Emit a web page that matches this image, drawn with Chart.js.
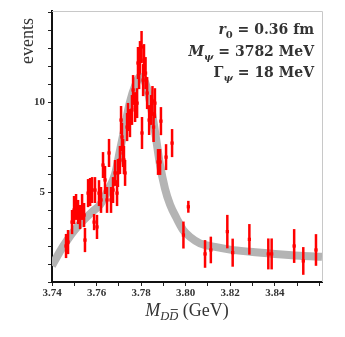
<!DOCTYPE html>
<html>
<head>
<meta charset="utf-8">
<script src="https://cdn.jsdelivr.net/npm/chart.js@4"></script>
<style>
  html, body { margin: 0; padding: 0; background: #fff; }
</style>
</head>
<body>
<canvas id="fitChart" width="345" height="337"></canvas>
<script>
// measured D Dbar events (mass in GeV, counts, symmetric error)
const massGeV = [
  3.7463, 3.7472, 3.7490, 3.7499, 3.7508, 3.7517, 3.7526, 3.7535, 3.7544, 3.7548,
  3.7562, 3.7571, 3.7580, 3.7589, 3.7593, 3.7602, 3.7611, 3.7620, 3.7629, 3.7638,
  3.7647, 3.7656, 3.7665, 3.7674, 3.7683, 3.7692, 3.7696, 3.7705, 3.7710, 3.7714,
  3.7719, 3.7723, 3.7728, 3.7737, 3.7741, 3.7750, 3.7759, 3.7764, 3.7773, 3.7782,
  3.7786, 3.7791, 3.7795, 3.7802, 3.7804, 3.7809, 3.7813, 3.7820, 3.7827, 3.7836,
  3.7845, 3.7851, 3.7856, 3.7862, 3.7876, 3.7885, 3.7889, 3.7912, 3.7939, 3.7990,
  3.8012, 3.8087, 3.8113, 3.8187, 3.8211, 3.8286, 3.8371, 3.8386, 3.8487, 3.8528,
  3.8585
];
const events = [
  2.00, 2.22, 3.33, 4.00, 4.17, 3.89, 3.61, 4.17, 3.72, 2.33,
  4.94, 5.00, 5.11, 3.33, 5.11, 3.06, 4.94, 4.56, 6.50, 5.67,
  4.56, 7.17, 4.56, 5.11, 6.06, 4.94, 6.06, 6.78, 9.00, 8.06,
  7.17, 6.78, 6.06, 8.61, 9.17, 8.83, 9.56, 10.67, 9.72, 9.94,
  12.17, 11.61, 12.50, 13.06, 8.28, 11.22, 12.33, 11.61, 10.50, 9.00,
  9.56, 10.06, 8.61, 9.94, 6.67, 6.67, 8.94, 6.94, 7.72, 2.61,
  4.18, 1.56, 1.78, 2.80, 1.63, 2.37, 1.56, 1.56, 2.00, 1.17,
  1.78
];
const errors = [
  0.67, 0.67, 0.67, 0.78, 0.72, 0.67, 0.67, 0.72, 0.67, 0.67,
  0.78, 0.78, 0.72, 0.45, 0.72, 0.67, 0.72, 0.72, 0.72, 0.78,
  0.72, 0.78, 0.72, 0.72, 0.72, 0.72, 0.78, 0.78, 0.78, 0.78,
  0.78, 0.78, 0.72, 0.78, 0.78, 0.78, 0.83, 0.83, 0.83, 0.83,
  0.89, 0.89, 0.89, 0.89, 0.89, 0.89, 0.89, 0.89, 0.89, 0.83,
  0.83, 0.83, 0.83, 0.83, 0.72, 0.72, 0.78, 0.72, 0.78, 0.75,
  0.33, 0.77, 0.74, 0.93, 0.78, 0.85, 0.86, 0.86, 0.94, 0.77,
  0.88
];

// fitted line shape (grey band)
const fitMass = [
  3.7400, 3.7436, 3.7467, 3.7503, 3.7539, 3.7580, 3.7616, 3.7651, 3.7683, 3.7705,
  3.7728, 3.7750, 3.7773, 3.7795, 3.7818, 3.7840, 3.7862, 3.7885, 3.7907, 3.7930,
  3.7961, 3.7988, 3.8020, 3.8064, 3.8132, 3.8199, 3.8289, 3.8401, 3.8514, 3.8612
];
const fitEvents = [
  0.9, 1.7, 2.3, 2.9, 3.4, 3.9, 4.3, 5.1, 6.0, 7.3,
  8.7, 10.0, 10.9, 11.4, 11.1, 10.0, 8.4, 6.5, 5.2, 4.3,
  3.5, 2.9, 2.5, 2.15, 1.95, 1.8, 1.68, 1.56, 1.46, 1.4
];

const xTickLabels = ["3.74", "3.76", "3.78", "3.80", "3.82", "3.84"];
const yTickLabels = ["5", "10"];

const errorBars = {
  id: "errorBars",
  beforeDatasetDraw(chart, args) {
    if (args.index !== 0) return;
    const { ctx, scales: { x, y } } = chart;
    ctx.save();
    ctx.strokeStyle = "#ff0000";
    ctx.lineWidth = 2.5;
    massGeV.forEach((m, i) => {
      const px = x.getPixelForValue(m);
      ctx.beginPath();
      ctx.moveTo(px, y.getPixelForValue(events[i] - errors[i]));
      ctx.lineTo(px, y.getPixelForValue(events[i] + errors[i]));
      ctx.stroke();
    });
    ctx.restore();
  }
};

// draws a run of [text, font, dy] pieces; align "right" or "center"
function drawPieces(ctx, pieces, x, y, align) {
  let w = 0;
  pieces.forEach(p => { ctx.font = p[1]; w += ctx.measureText(p[0]).width; });
  let cx = align === "right" ? x - w : x - w / 2;
  const spots = [];
  pieces.forEach(p => {
    ctx.font = p[1];
    ctx.fillText(p[0], cx, y + (p[2] || 0));
    const pw = ctx.measureText(p[0]).width;
    spots.push([cx, pw]);
    cx += pw;
  });
  return spots;
}

const textLayer = {
  id: "textLayer",
  afterDraw(chart) {
    const { ctx, chartArea: a } = chart;
    ctx.save();
    // light frame on top and right
    ctx.strokeStyle = "#c8c8c8";
    ctx.lineWidth = 1;
    ctx.beginPath();
    ctx.moveTo(a.left, a.top + 0.5);
    ctx.lineTo(a.right + 0.5, a.top + 0.5);
    ctx.lineTo(a.right + 0.5, a.bottom);
    ctx.stroke();

    ctx.fillStyle = "#333";
    ctx.textBaseline = "alphabetic";
    ctx.textAlign = "left";

    // y title
    ctx.save();
    ctx.translate(33, 18);
    ctx.rotate(-Math.PI / 2);
    ctx.textAlign = "right";
    ctx.font = '18px "Liberation Serif"';
    ctx.fillText("events", 0, 0);
    ctx.restore();

    // x title  M_{D Dbar} (GeV)
    const spots = drawPieces(ctx, [
      ["M", 'italic 18px "Liberation Serif"', 0],
      ["DD", 'italic 12.5px "Liberation Serif"', 4],
      [" (GeV)", '18px "Liberation Serif"', 0]
    ], (a.left + a.right) / 2, 316, "center");
    const sub = spots[1];
    ctx.strokeStyle = "#333";
    ctx.lineWidth = 0.9;
    ctx.beginPath();
    ctx.moveTo(sub[0] + sub[1] / 2 + 1.5, 309.5);
    ctx.lineTo(sub[0] + sub[1] - 0.5, 309.5);
    ctx.stroke();

    // fit parameters
    const big = 'bold 14px "DejaVu Serif"';
    const bigIt = 'italic bold 14px "DejaVu Serif"';
    const small = 'bold 10px "DejaVu Serif"';
    const smallIt = 'italic bold 10px "DejaVu Serif"';
    drawPieces(ctx, [["r", bigIt], ["0", small, 4], [" = 0.36 fm", big]], 314, 34, "right");
    drawPieces(ctx, [["M", bigIt], ["ψ", smallIt, 4], [" = 3782 MeV", big]], 314, 56, "right");
    drawPieces(ctx, [["Γ", big], ["ψ", smallIt, 4], [" = 18 MeV", big]], 314, 77, "right");
    ctx.restore();
  }
};

const ctx = document.getElementById("fitChart");

new Chart(ctx, {
  type: "scatter",
  data: {
    datasets: [
      {
        label: "data",
        data: massGeV.map((m, i) => ({ x: m, y: events[i] })),
        backgroundColor: "#ff0000",
        borderColor: "#ff0000",
        borderWidth: 0,
        pointStyle: "rect",
        pointRadius: 2.3,
      },
      {
        label: "fit",
        type: "line",
        data: fitMass.map((m, i) => ({ x: m, y: fitEvents[i] })),
        borderColor: "#b4b4b4",
        borderWidth: 8,
        pointRadius: 0,
        cubicInterpolationMode: "monotone",
        fill: false,
      },
    ],
  },
  options: {
    responsive: false,
    animation: false,
    devicePixelRatio: 1,
    layout: { padding: { top: 11, right: 23, left: 0, bottom: 0 } },
    plugins: { legend: { display: false }, tooltip: { enabled: false } },
    scales: {
      x: {
        type: "linear",
        min: 3.74,
        max: 3.8612,
        afterFit(scale) { scale.height = 55; },
        grid: { drawOnChartArea: false, tickLength: 4, color: "#222", lineWidth: 1 },
        border: { color: "#111", width: 2 },
        ticks: {
          stepSize: 0.01,
          includeBounds: false,
          autoSkip: false,
          maxRotation: 0,
          padding: 1,
          color: "#333",
          font: { family: "Liberation Serif", weight: "bold", size: 11 },
          callback(value) {
            const t = value.toFixed(2);
            return xTickLabels.includes(t) ? t : "";
          },
        },
      },
      y: {
        min: 0,
        max: 15.06,
        afterFit(scale) { scale.width = 52; },
        grid: { drawOnChartArea: false, tickLength: 4, color: "#222", lineWidth: 1 },
        border: { color: "#111", width: 2 },
        ticks: {
          stepSize: 1,
          includeBounds: false,
          autoSkip: false,
          padding: 3,
          color: "#333",
          font: { family: "Liberation Serif", weight: "bold", size: 11 },
          callback(value) {
            const t = String(Math.round(value));
            return yTickLabels.includes(t) ? t : "";
          },
        },
      },
    },
  },
  plugins: [errorBars, textLayer],
});
</script>
</body>
</html>
